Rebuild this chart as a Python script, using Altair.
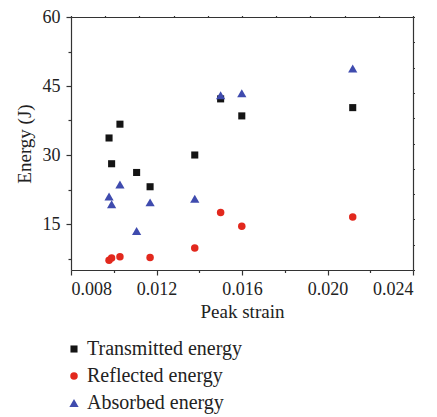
import altair as alt
import pandas as pd

# ---- data ----
series_names = ["Transmitted energy", "Reflected energy", "Absorbed energy"]
series_shapes = ["square", "circle", "triangle-up"]
series_colors = ["#141414", "#e2281d", "#3f4bae"]
series_sizes = [50, 56, 85]

strain_transmitted = [0.00978, 0.00990, 0.01029, 0.01107, 0.01170, 0.01379, 0.01500, 0.01599, 0.02118]
energy_transmitted = [33.7, 28.1, 36.7, 26.2, 23.1, 30.0, 42.2, 38.5, 40.3]

strain_reflected = [0.00978, 0.00990, 0.01029, 0.01170, 0.01379, 0.01500, 0.01599, 0.02118]
energy_reflected = [7.1, 7.6, 7.9, 7.7, 9.8, 17.5, 14.5, 16.5]

strain_absorbed = [0.00978, 0.00990, 0.01029, 0.01107, 0.01170, 0.01379, 0.01500, 0.01599, 0.02118]
energy_absorbed = [21.0, 19.3, 23.6, 13.5, 19.7, 20.5, 43.0, 43.4, 48.8]

x_domain = [0.008, 0.024]
y_domain = [5, 60]
x_major = [0.008, 0.012, 0.016, 0.020, 0.024]
x_minor = [0.010, 0.014, 0.018, 0.022]
x_top = [0.008, 0.0096, 0.0112, 0.0128, 0.0144, 0.016, 0.0176, 0.0192, 0.0208, 0.0224, 0.024]
y_major = [15, 30, 45, 60]
y_minor = [7.5, 22.5, 37.5, 52.5]
y_right = [5, 10.5, 16, 21.5, 27, 32.5, 38, 43.5, 49, 54.5, 60]

rows = []
for name, xs, ys in [
    (series_names[0], strain_transmitted, energy_transmitted),
    (series_names[1], strain_reflected, energy_reflected),
    (series_names[2], strain_absorbed, energy_absorbed),
]:
    for xv, yv in zip(xs, ys):
        rows.append({"series": name, "strain": xv, "energy": yv})
df = pd.DataFrame(rows)

FONT = "Liberation Serif"
AX = "#333333"

xs = alt.Scale(domain=x_domain, nice=False, zero=False)
ys = alt.Scale(domain=y_domain, nice=False, zero=False)

base = alt.Chart(df)

legend = alt.Legend(title=None, orient="none", legendX=-7, legendY=322,
                    direction="vertical", symbolSize=30,
                    labelOffset=3, rowPadding=7, padding=0)

points = base.mark_point(filled=True, opacity=1).encode(
    x=alt.X("strain:Q", scale=xs, axis=alt.Axis(
        orient="bottom", values=x_major, format=".3f", title="Peak strain",
        tickSize=5, labelPadding=5, titlePadding=4, grid=False)),
    y=alt.Y("energy:Q", scale=ys, axis=alt.Axis(
        orient="left", values=y_major, title="Energy (J)",
        tickSize=5, labelPadding=6, titlePadding=8, grid=False)),
    color=alt.Color("series:N", scale=alt.Scale(domain=series_names, range=series_colors),
                    legend=legend),
    shape=alt.Shape("series:N", scale=alt.Scale(domain=series_names, range=series_shapes),
                    legend=legend),
    size=alt.Size("series:O", sort=series_names,
                  scale=alt.Scale(type="ordinal", domain=series_names, range=series_sizes),
                  legend=None),
)

minor = base.mark_point(opacity=0).encode(
    x=alt.X("strain:Q", scale=xs, axis=alt.Axis(
        orient="bottom", values=x_minor, labels=False, title=None, domain=False,
        tickSize=2.5, grid=False)),
    y=alt.Y("energy:Q", scale=ys, axis=alt.Axis(
        orient="left", values=y_minor, labels=False, title=None, domain=False,
        tickSize=3, grid=False)),
)

mirror = base.mark_point(opacity=0).encode(
    x=alt.X("strain:Q", scale=xs, axis=alt.Axis(
        orient="top", values=x_top, labels=False, title=None,
        tickSize=1.5, grid=False)),
    y=alt.Y("energy:Q", scale=ys, axis=alt.Axis(
        orient="right", values=y_right, labels=False, title=None,
        tickSize=1.5, grid=False)),
)

chart = alt.layer(points, minor, mirror).resolve_axis(
    x="independent", y="independent"
).properties(
    width=342, height=253,
    autosize=alt.AutoSizeParams(type="none"),
    padding={"left": 71, "top": 17, "right": 24, "bottom": 147},
).configure(
    font=FONT,
).configure_view(
    stroke=None,
).configure_axis(
    domainColor=AX, tickColor=AX, domainWidth=1.2, tickWidth=1.2,
    labelFont=FONT, titleFont=FONT, labelFontSize=18, titleFontSize=19,
    labelColor="#222222", titleColor="#222222", titleFontWeight="normal",
).configure_legend(
    labelFont=FONT, labelFontSize=20, labelColor="#222222",
)

chart.save("out.html", embed_options={"renderer": "svg", "actions": False})
